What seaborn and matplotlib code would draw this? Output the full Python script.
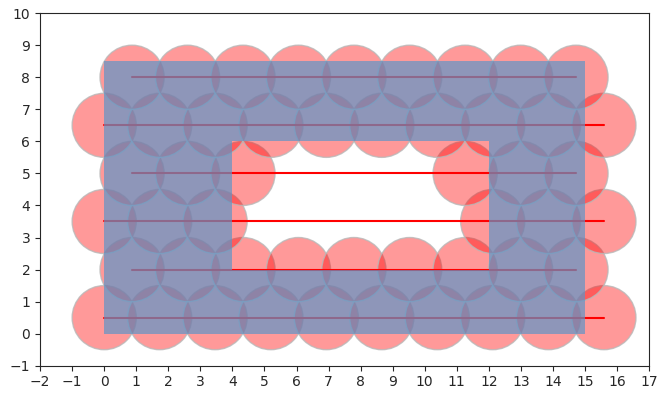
import matplotlib
matplotlib.use("Agg")
import matplotlib.pyplot as plt
from matplotlib.patches import Circle, PathPatch
from matplotlib.path import Path
import seaborn as sns
import pandas as pd

# Row heights of the hexagonal circle grid
row_y = [0.5, 2.0, 3.5, 5.0, 6.5, 8.0]

# Circle centres along each row (circles lying fully inside the hole are omitted)
row_0_x = [0.00, 1.73, 3.46, 5.20, 6.93, 8.66, 10.39, 12.12, 13.86, 15.59]
row_1_x = [0.87, 2.60, 4.33, 6.06, 7.79, 9.53, 11.26, 12.99, 14.72]
row_2_x = [0.00, 1.73, 3.46, 12.12, 13.86, 15.59]
row_3_x = [0.87, 2.60, 4.33, 11.26, 12.99, 14.72]
row_4_x = [0.00, 1.73, 3.46, 5.20, 6.93, 8.66, 10.39, 12.12, 13.86, 15.59]
row_5_x = [0.87, 2.60, 4.33, 6.06, 7.79, 9.53, 11.26, 12.99, 14.72]
rows_x = [row_0_x, row_1_x, row_2_x, row_3_x, row_4_x, row_5_x]
circle_radius = 1.0

# Frame-shaped region: outer rectangle and inner hole
outer_x = [0, 15, 15, 0]
outer_y = [0, 0, 8.5, 8.5]
hole_x = [4, 4, 12, 12]
hole_y = [2, 6, 6, 2]

x_ticks = list(range(-2, 18))
y_ticks = list(range(-1, 11))

sns.set_style("ticks")

fig, ax = plt.subplots(figsize=(6.57, 3.93), dpi=100)
fig.subplots_adjust(left=0.061, right=0.988, bottom=0.069, top=0.967)

# Circles
for y, xs in zip(row_y, rows_x):
    for x in xs:
        ax.add_patch(Circle((x, y), circle_radius, facecolor=(1, 0, 0, 0.4),
                            edgecolor=(0.72, 0.72, 0.72, 0.8), linewidth=1.0,
                            zorder=1))

# Row lines through the circle centres
lines = pd.DataFrame({
    "x": [v for xs in rows_x for v in (min(xs), max(xs))],
    "y": [y for y in row_y for _ in range(2)],
    "row": [i for i in range(len(row_y)) for _ in range(2)],
})
sns.lineplot(data=lines, x="x", y="y", units="row", estimator=None,
             color="red", linewidth=1.5, sort=False, ax=ax, zorder=2)

# Region with a hole
verts = list(zip(outer_x, outer_y)) + [(outer_x[0], outer_y[0])] + \
        list(zip(hole_x, hole_y)) + [(hole_x[0], hole_y[0])]
codes = ([Path.MOVETO] + [Path.LINETO] * 3 + [Path.CLOSEPOLY]) * 2
ax.add_patch(PathPatch(Path(verts, codes), facecolor="#5e95c7",
                       edgecolor="none", alpha=0.7, zorder=3))

ax.set_xlim(-2, 17)
ax.set_ylim(-1, 10)
ax.set_aspect("equal")
ax.set_xticks(x_ticks)
ax.set_yticks(y_ticks)
ax.set_xlabel("")
ax.set_ylabel("")

fig.savefig("out.png", dpi=100)
